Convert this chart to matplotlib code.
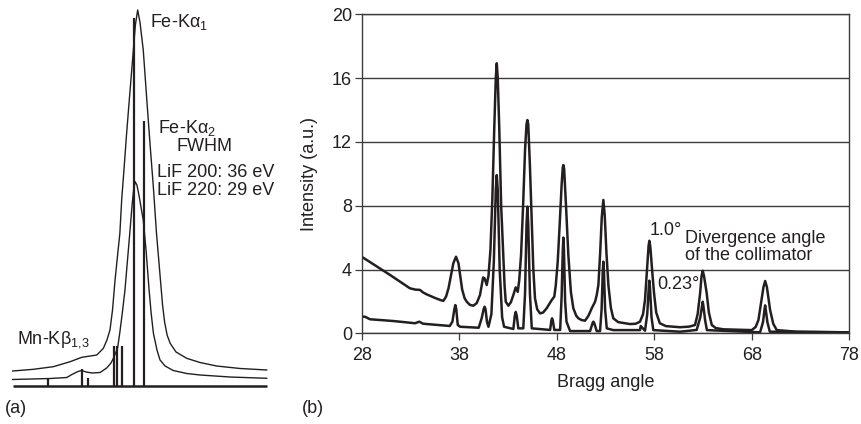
import matplotlib
matplotlib.use('Agg')
import matplotlib.pyplot as plt

plt.rcParams['font.family'] = ['Liberation Sans', 'DejaVu Sans']
plt.rcParams['mathtext.fontset'] = 'custom'
plt.rcParams['mathtext.rm'] = 'Liberation Sans'
plt.rcParams['mathtext.it'] = 'Liberation Sans:italic'
plt.rcParams['mathtext.default'] = 'regular'

# ---------------- Panel (a): Fe-K alpha line profiles (arbitrary units) -------------
a_outer_x = [0.0, 8.1, 16.0, 22.6, 27.2, 33.1, 35.7, 37.1, 38.3, 39.3, 40.3, 41.3, 42.2,
             42.9, 43.8, 44.8, 45.9, 46.8, 47.5, 48.3, 49.2, 50.1, 51.4, 52.8, 54.1, 55.4,
             56.6, 58.0, 59.0, 59.8, 60.8, 62.0, 64.3, 68.5, 73.7, 80.3, 89.5, 100.0]
a_outer_y = [3.86, 4.31, 5.01, 6.34, 7.51, 8.12, 9.91, 12.12, 14.78, 20.11, 28.10, 34.75,
             40.61, 49.40, 57.39, 66.71, 76.03, 83.49, 89.35, 96.01, 100.0, 96.80, 89.35,
             76.03, 64.05, 52.60, 40.61, 29.43, 21.44, 16.91, 13.42, 11.24, 8.92, 7.24,
             6.13, 5.19, 4.53, 4.13]

a_inner_x = [0.0, 14.7, 21.3, 23.3, 25.7, 27.2, 28.9, 31.2, 34.4, 37.0, 38.7, 39.9, 41.3,
             42.2, 43.2, 44.2, 45.2, 46.2, 47.0, 47.6, 48.2, 48.9, 49.7, 50.5, 51.4, 52.5,
             53.7, 54.5, 55.4, 56.8, 58.0, 60.0, 63.2, 68.5, 73.7, 85.6, 100.0]
a_inner_y = [1.60, 1.86, 2.13, 2.93, 3.73, 3.99, 3.60, 3.33, 3.46, 4.66, 5.99, 7.59, 9.99,
             14.25, 19.57, 25.43, 33.42, 41.41, 48.07, 52.06, 54.27, 53.40, 50.73, 47.54,
             44.07, 36.08, 25.43, 19.31, 13.90, 9.45, 6.79, 5.19, 3.99, 3.20, 2.80, 2.26,
             1.92]

a_stick_x = [14.0, 27.2, 29.5, 39.9, 41.2, 43.1, 47.9, 51.6]
a_stick_h = [2.08, 4.39, 2.08, 10.6, 10.6, 10.6, 97.8, 70.5]

# ---------------- Panel (b): intensity vs Bragg angle -------------------------------
b_x_ticks = [28, 38, 48, 58, 68, 78]
b_y_ticks = [0, 4, 8, 12, 16, 20]

b_wide_theta = [28.0, 30.9, 32.95, 33.5, 33.98, 34.3, 34.67, 35.5, 36.1, 36.37, 36.65,
                36.9, 37.15, 37.4, 37.67, 37.92, 38.1, 38.3, 38.55, 38.77, 39.1, 39.45,
                39.8, 40.13, 40.3, 40.45, 40.6, 40.82, 41.0, 41.2, 41.4, 41.6, 41.75,
                41.85, 41.95, 42.1, 42.3, 42.52, 42.65, 42.77, 43.04, 43.3, 43.55, 43.79,
                44.0, 44.15, 44.34, 44.55, 44.75, 44.9, 44.99, 45.08, 45.25, 45.44, 45.6,
                45.77, 46.0, 46.29, 46.6, 46.97, 47.49, 47.75, 47.9, 48.1, 48.3, 48.5,
                48.62, 48.68, 48.76, 48.95, 49.19, 49.45, 49.7, 50.0, 50.22, 50.55, 50.9,
                51.25, 51.59, 51.93, 52.1, 52.27, 52.45, 52.62, 52.78, 52.92, 53.1, 53.3,
                53.55, 53.8, 54.3, 55.52, 56.1, 56.54, 56.85, 57.05, 57.25, 57.42, 57.5,
                57.6, 57.8, 57.98, 58.2, 58.57, 59.2, 60.65, 61.6, 62.18, 62.45, 62.7,
                62.85, 62.97, 63.1, 63.38, 63.6, 63.9, 64.3, 65.09, 68.0, 68.4, 68.68,
                68.95, 69.2, 69.37, 69.55, 69.88, 70.2, 70.56, 72.6, 78.0]
b_wide_int = [4.80, 3.66, 2.82, 2.74, 2.72, 2.56, 2.44, 2.22, 2.08, 2.03, 2.3, 2.82, 3.6,
              4.4, 4.80, 4.4, 3.6, 2.75, 2.2, 1.98, 1.78, 1.73, 1.9, 2.40, 3.0, 3.5, 3.45,
              3.03, 3.6, 5.2, 8.5, 13.0, 16.0, 16.93, 16.0, 13.0, 8.0, 4.9, 3.0, 1.98,
              1.73, 1.95, 2.40, 2.88, 2.60, 3.3, 4.90, 8.0, 11.5, 13.1, 13.37, 13.1, 10.5,
              7.0, 4.0, 2.19, 1.5, 1.25, 1.3, 1.57, 2.09, 2.30, 3.0, 4.49, 6.8, 9.3, 10.4,
              10.55, 10.3, 8.0, 4.90, 2.6, 1.57, 1.1, 0.94, 0.83, 0.79, 1.1, 1.57, 1.98,
              2.4, 3.03, 5.0, 7.3, 8.36, 7.4, 5.0, 3.0, 1.6, 0.94, 0.7, 0.58, 0.6, 0.73,
              1.2, 2.09, 3.9, 5.5, 5.80, 5.4, 3.8, 2.50, 1.3, 0.63, 0.45, 0.38, 0.42, 0.52,
              1.2, 2.50, 3.6, 3.92, 3.6, 2.50, 1.3, 0.52, 0.33, 0.25, 0.20, 0.4, 0.83,
              1.9, 2.9, 3.28, 2.9, 1.46, 0.6, 0.20, 0.10, 0.06]

b_narrow_theta = [28.0, 28.34, 28.85, 31.24, 33.47, 33.9, 34.3, 37.03, 37.3, 37.5, 37.6,
                  37.7, 37.85, 38.1, 40.0, 40.3, 40.5, 40.6, 40.7, 40.85, 41.0, 41.3,
                  41.55, 41.75, 41.85, 41.95, 42.15, 42.4, 42.6, 43.55, 43.7, 43.8, 43.9,
                  44.06, 44.57, 44.75, 44.9, 44.99, 45.08, 45.25, 45.44, 47.32, 47.45,
                  47.52, 47.6, 47.75, 48.35, 48.5, 48.62, 48.68, 48.74, 48.86, 49.0, 49.37,
                  51.42, 51.68, 51.76, 51.84, 52.1, 52.44, 52.6, 52.72, 52.78, 52.84,
                  52.96, 53.13, 53.8, 56.54, 56.61, 57.05, 57.28, 57.44, 57.5, 57.56,
                  57.72, 57.9, 60.65, 62.35, 62.72, 62.91, 62.97, 63.03, 63.22, 63.4,
                  68.85, 69.15, 69.31, 69.37, 69.43, 69.6, 69.85, 78.0]
b_narrow_int = [1.04, 1.04, 0.88, 0.77, 0.63, 0.73, 0.60, 0.46, 0.73, 1.5, 1.77, 1.5,
                0.52, 0.41, 0.35, 0.94, 1.5, 1.67, 1.5, 0.70, 0.41, 1.2, 4.5, 9.0, 9.92,
                9.0, 4.0, 1.0, 0.41, 0.27, 1.1, 1.34, 1.1, 0.31, 0.31, 2.5, 6.8, 7.94,
                6.8, 2.5, 0.31, 0.21, 0.8, 0.94, 0.8, 0.21, 0.21, 2.3, 5.2, 6.0, 5.2, 2.0,
                0.73, 0.14, 0.14, 0.65, 0.73, 0.65, 0.14, 0.14, 1.5, 3.9, 4.49, 3.9, 1.5,
                0.31, 0.20, 0.20, 0.46, 0.16, 1.2, 2.9, 3.30, 2.9, 1.0, 0.2, 0.10, 0.21,
                1.0, 1.75, 1.98, 1.75, 0.8, 0.2, 0.06, 0.7, 1.5, 1.75, 1.5, 0.7, 0.1, 0.06]

INK = '#231f20'
GRID = '#3c3c3c'
FS = 13

W, H = 861, 424
fig = plt.figure(figsize=(W / 100, H / 100), dpi=100)


def fx(x):
    return x / W


def fy(y):
    return 1 - y / H


# ---- panel (a)
ax_a = fig.add_axes([fx(12.7), fy(385.5), 254 / W, 375.5 / H])
ax_a.set_xlim(0, 100)
ax_a.set_ylim(0, 100)
ax_a.axis('off')
ax_a.plot(a_outer_x, a_outer_y, color=INK, lw=1.0, clip_on=False)
ax_a.plot(a_inner_x, a_inner_y, color=INK, lw=1.0, clip_on=False)
ax_a.vlines(a_stick_x, 0, a_stick_h, color=INK, lw=1.6, clip_on=False)
ax_a.plot([0, 100], [0, 0], color=INK, lw=1.8, clip_on=False, solid_capstyle='butt')

fig.text(fx(150), fy(26.7), 'Fe-Kα$_1$', fontsize=FS, color=INK, va='baseline')
fig.text(fx(158.3), fy(133), 'Fe-Kα$_2$', fontsize=FS, color=INK, va='baseline')
fig.text(fx(176.7), fy(150.7), 'FWHM', fontsize=FS, color=INK, va='baseline')
fig.text(fx(157.3), fy(176.7), 'LiF 200: 36 eV', fontsize=FS, color=INK, va='baseline')
fig.text(fx(157.3), fy(195), 'LiF 220: 29 eV', fontsize=FS, color=INK, va='baseline')
fig.text(fx(16.7), fy(343.3), 'Mn-Kβ$_{1{,}3}$', fontsize=FS, color=INK, va='baseline')
fig.text(fx(5), fy(413), '(a)', fontsize=FS, color=INK, va='baseline')
fig.text(fx(302), fy(413), '(b)', fontsize=FS, color=INK, va='baseline')

# ---- panel (b)
ax_b = fig.add_axes([fx(361.7), fy(333.3), (849.3 - 361.7) / W, (333.3 - 14.3) / H])
ax_b.set_xlim(b_x_ticks[0], b_x_ticks[-1])
ax_b.set_ylim(b_y_ticks[0], b_y_ticks[-1])
ax_b.set_xticks(b_x_ticks)
ax_b.set_yticks(b_y_ticks)
ax_b.yaxis.grid(True, color=GRID, lw=1.0)
ax_b.set_axisbelow(True)
for s in ax_b.spines.values():
    s.set_color(GRID)
    s.set_linewidth(1.0)
ax_b.tick_params(direction='out', length=5, width=0.9, color=GRID, labelsize=FS,
                 labelcolor=INK)
ax_b.tick_params(axis='x', pad=5)
ax_b.tick_params(axis='y', pad=2)
ax_b.plot(b_wide_theta, b_wide_int, color=INK, lw=1.8, solid_joinstyle='round')
ax_b.plot(b_narrow_theta, b_narrow_int, color=INK, lw=1.8, solid_joinstyle='round')

fig.text(fx(605.5), fy(386.7), 'Bragg angle', fontsize=FS, color=INK, ha='center',
         va='baseline')
fig.text(fx(310), fy(174), 'Intensity (a.u.)', fontsize=FS, color=INK, ha='center',
         va='center', rotation=90)
fig.text(fx(649.3), fy(235), '1.0°', fontsize=FS, color=INK, va='baseline')
fig.text(fx(685), fy(242.7), 'Divergence angle', fontsize=FS, color=INK, va='baseline')
fig.text(fx(685), fy(260), 'of the collimator', fontsize=FS, color=INK, va='baseline')
fig.text(fx(657.3), fy(289.3), '0.23°', fontsize=FS, color=INK, va='baseline')

fig.savefig('out.png', dpi=100)
